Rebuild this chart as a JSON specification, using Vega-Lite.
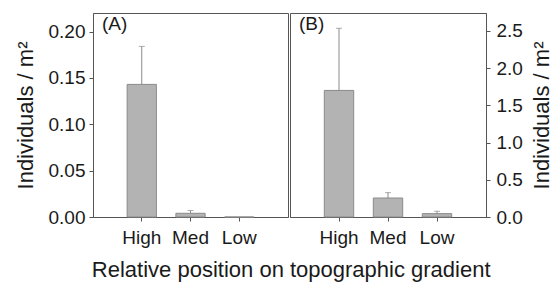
{
  "$schema": "https://vega.github.io/schema/vega-lite/v6.json",
  "padding": {"left": 13, "top": 12, "right": 0, "bottom": 3},
  "background": "white",
  "config": {
    "font": "Liberation Sans",
    "view": {"stroke": "#555555", "strokeWidth": 1},
    "axis": {
      "grid": false,
      "domainColor": "#555555",
      "tickColor": "#555555",
      "tickSize": 4,
      "labelFontSize": 19,
      "labelColor": "#1a1a1a",
      "titleFontSize": 22,
      "titleFontWeight": "normal",
      "titleColor": "#1a1a1a"
    }
  },
  "data": {
    "values": [
      {"panel": "A", "pos": "High", "mean": 0.143, "upper": 0.184},
      {"panel": "A", "pos": "Med", "mean": 0.004, "upper": 0.007},
      {"panel": "A", "pos": "Low", "mean": 0.0, "upper": null},
      {"panel": "B", "pos": "High", "mean": 1.70, "upper": 2.535},
      {"panel": "B", "pos": "Med", "mean": 0.255, "upper": 0.327},
      {"panel": "B", "pos": "Low", "mean": 0.045, "upper": 0.077}
    ]
  },
  "title": {
    "text": "Relative position on topographic gradient",
    "orient": "bottom",
    "anchor": "middle",
    "fontSize": 22,
    "fontWeight": "normal",
    "color": "#1a1a1a",
    "offset": 12,
    "dx": 8
  },
  "spacing": 0,
  "hconcat": [
    {
      "width": 195,
      "height": 204,
      "title": {"text": "(A)", "anchor": "start", "frame": "group", "offset": -21, "dx": 9, "fontSize": 19, "fontWeight": "normal", "color": "#1a1a1a"},
      "transform": [{"filter": "datum.panel === 'A'"}],
      "encoding": {
        "x": {
          "field": "pos", "type": "nominal", "sort": ["High", "Med", "Low"],
          "scale": {"paddingInner": 0.4, "paddingOuter": 0.7},
          "axis": {"title": null, "labelAngle": 0, "labelPadding": 7}
        }
      },
      "layer": [
        {
          "mark": {"type": "bar", "fill": "#b3b3b3", "stroke": "#8a8a8a", "strokeWidth": 1},
          "encoding": {
            "y": {
              "field": "mean", "type": "quantitative",
              "scale": {"domain": [0, 0.22], "nice": false, "zero": true},
              "axis": {"title": "Individuals / m²", "values": [0, 0.05, 0.1, 0.15, 0.2], "format": ".2f", "labelPadding": 4, "titlePadding": 11}
            }
          }
        },
        {
          "mark": {"type": "rule", "color": "#8a8a8a", "strokeWidth": 1},
          "encoding": {"y": {"field": "mean", "type": "quantitative"}, "y2": {"field": "upper"}}
        },
        {
          "mark": {"type": "tick", "color": "#8a8a8a", "size": 6, "thickness": 1},
          "encoding": {"y": {"field": "upper", "type": "quantitative"}}
        }
      ]
    },
    {
      "width": 196,
      "height": 204,
      "title": {"text": "(B)", "anchor": "start", "frame": "group", "offset": -21, "dx": 9, "fontSize": 19, "fontWeight": "normal", "color": "#1a1a1a"},
      "transform": [{"filter": "datum.panel === 'B'"}],
      "encoding": {
        "x": {
          "field": "pos", "type": "nominal", "sort": ["High", "Med", "Low"],
          "scale": {"paddingInner": 0.4, "paddingOuter": 0.7},
          "axis": {"title": null, "labelAngle": 0, "labelPadding": 7}
        }
      },
      "layer": [
        {
          "mark": {"type": "bar", "fill": "#b3b3b3", "stroke": "#8a8a8a", "strokeWidth": 1},
          "encoding": {
            "y": {
              "field": "mean", "type": "quantitative",
              "scale": {"domain": [0, 2.74], "nice": false, "zero": true},
              "axis": {"orient": "right", "title": "Individuals / m²", "values": [0, 0.5, 1, 1.5, 2, 2.5], "format": ".1f", "labelPadding": 6, "titlePadding": 9, "titleAngle": 270, "titleBaseline": "top"}
            }
          }
        },
        {
          "mark": {"type": "rule", "color": "#8a8a8a", "strokeWidth": 1},
          "encoding": {"y": {"field": "mean", "type": "quantitative"}, "y2": {"field": "upper"}}
        },
        {
          "mark": {"type": "tick", "color": "#8a8a8a", "size": 6, "thickness": 1},
          "encoding": {"y": {"field": "upper", "type": "quantitative"}}
        }
      ]
    }
  ]
}
